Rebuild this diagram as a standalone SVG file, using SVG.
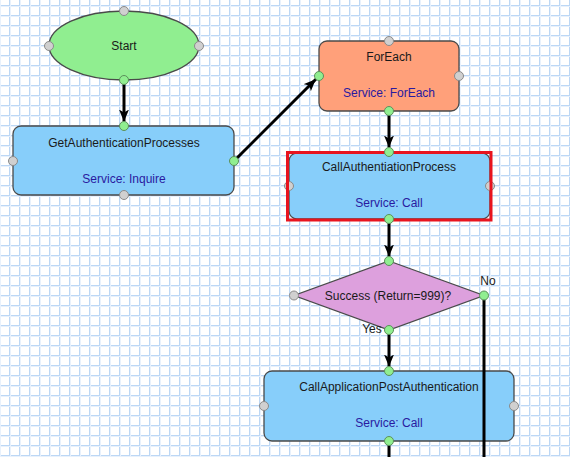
<svg xmlns="http://www.w3.org/2000/svg" width="570" height="457" viewBox="0 0 570 457">
<style>
.node rect,.node ellipse,.node polygon{stroke:#4a4a4a;stroke-width:1.3}
.t{font-family:"Liberation Sans",Arial,sans-serif;font-size:12px;fill:#1a1a1a;text-anchor:middle}
.s{font-family:"Liberation Sans",Arial,sans-serif;font-size:12px;fill:#2a1aa0;text-anchor:middle}
.lbl{font-family:"Liberation Sans",Arial,sans-serif;font-size:12px;fill:#1a1a1a;text-anchor:middle}
.pg{fill:#d0d0d0;stroke:#8a8a8a;stroke-width:1}
.pn{fill:#90ee90;stroke:#5b8f5b;stroke-width:1}
.c{stroke:#000;stroke-width:3;fill:none}
</style>
<defs>
<pattern id="grid" width="10" height="10" patternUnits="userSpaceOnUse" x="9" y="5">
<path d="M0.5 0V10M0 0.5H10" stroke="#bcd7f5" stroke-width="1" fill="none"/>
<path d="M1.5 0V10M0 1.5H10" stroke="#e8f1fc" stroke-width="1" fill="none"/>
</pattern>
<marker id="arr" markerWidth="12" markerHeight="10" refX="12" refY="5" orient="auto" markerUnits="userSpaceOnUse">
<path d="M0 0L12 5L0 10L3 5Z" fill="#000"/>
</marker>
</defs>
<rect width="570" height="457" fill="#fff"/>
<rect width="570" height="457" fill="url(#grid)"/>

<g id="start" class="node">
<ellipse cx="124" cy="45.5" rx="75" ry="34.5" fill="#90ee90"/>
<text class="t" x="124" y="50">Start</text>
<circle class="pg" cx="124" cy="11" r="4.5"/>
<circle class="pg" cx="49" cy="46" r="4.5"/>
<circle class="pg" cx="199" cy="46" r="4.5"/>
</g>

<g id="getauth" class="node">
<rect x="13" y="126" width="221" height="69" rx="8" fill="#87cefa"/>
<text class="t" x="124" y="147">GetAuthenticationProcesses</text>
<text class="s" x="124" y="183">Service: Inquire</text>
<circle class="pg" cx="13" cy="161" r="4.5"/>
<circle class="pg" cx="124" cy="195" r="4.5"/>
</g>

<g id="foreach" class="node">
<rect x="319" y="41" width="140" height="70" rx="8" fill="#ffa07a"/>
<text class="t" x="389" y="61">ForEach</text>
<text class="s" x="389" y="97">Service: ForEach</text>
<circle class="pg" cx="389" cy="41" r="4.5"/>
<circle class="pg" cx="459" cy="76" r="4.5"/>
</g>

<g id="callauth" class="node">
<rect x="289" y="153" width="201" height="66" rx="8" fill="#87cefa"/>
<text class="t" x="389" y="171">CallAuthentiationProcess</text>
<text class="s" x="389" y="207">Service: Call</text>
<circle class="pg" cx="289" cy="186" r="4.5"/>
<circle class="pg" cx="490" cy="186" r="4.5"/>
<rect x="287.5" y="152.5" width="203.5" height="67.5" fill="none" stroke="#e8141e" stroke-width="3" style="stroke:#e8141e;stroke-width:3"/>
</g>

<g id="decision" class="node">
<polygon points="389,261 484,295.5 389,330 294,295.5" fill="#dda0dd"/>
<text class="t" x="388" y="299.5">Success (Return=999)?</text>
<circle class="pg" cx="294" cy="295.5" r="4.5"/>
</g>

<g id="callapp" class="node">
<rect x="264" y="371" width="250" height="70" rx="8" fill="#87cefa"/>
<text class="t" x="389" y="391">CallApplicationPostAuthentication</text>
<text class="s" x="389" y="427">Service: Call</text>
<circle class="pg" cx="264" cy="406" r="4.5"/>
<circle class="pg" cx="514" cy="406" r="4.5"/>
</g>

<g id="connectors">
<line class="c" x1="124" y1="80" x2="124" y2="121.5" marker-end="url(#arr)"/>
<line class="c" x1="234" y1="161" x2="315.8" y2="79.2" marker-end="url(#arr)"/>
<line class="c" x1="389" y1="111" x2="389" y2="147.5" marker-end="url(#arr)"/>
<line class="c" x1="389" y1="219" x2="389" y2="256.5" marker-end="url(#arr)"/>
<line class="c" x1="389" y1="330" x2="389" y2="366.5" marker-end="url(#arr)"/>
<line class="c" x1="484" y1="295.5" x2="484" y2="457"/>
<line class="c" x1="389" y1="441" x2="389" y2="457"/>
<text class="lbl" x="488" y="285">No</text>
<text class="lbl" x="372" y="333">Yes</text>
<circle class="pn" cx="124" cy="80" r="4.5"/>
<circle class="pn" cx="124" cy="126" r="4.5"/>
<circle class="pn" cx="234" cy="161" r="4.5"/>
<circle class="pn" cx="319" cy="76" r="4.5"/>
<circle class="pn" cx="389" cy="111" r="4.5"/>
<circle class="pn" cx="389" cy="152" r="4.5"/>
<circle class="pn" cx="389" cy="219" r="4.5"/>
<circle class="pn" cx="389" cy="261" r="4.5"/>
<circle class="pn" cx="484" cy="295.5" r="4.5"/>
<circle class="pn" cx="389" cy="330" r="4.5"/>
<circle class="pn" cx="389" cy="371" r="4.5"/>
<circle class="pn" cx="389" cy="441" r="4.5"/>
</g>
</svg>
